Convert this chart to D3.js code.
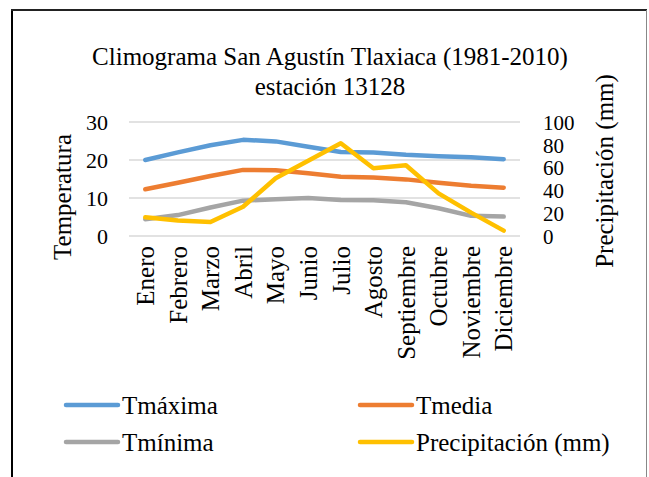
<!DOCTYPE html>
<html>
<head>
<meta charset="utf-8">
<script src="https://cdn.jsdelivr.net/npm/d3@7"></script>
<style>
html,body{margin:0;padding:0;background:#fff;}
svg{display:block;}
svg text{font-family:"Liberation Serif","Times New Roman",Tinos,"DejaVu Serif",serif;}
</style>
</head>
<body>
<svg id="chart" width="649" height="477"></svg>
<script>
const months = ["Enero","Febrero","Marzo","Abril","Mayo","Junio","Julio","Agosto","Septiembre","Octubre","Noviembre","Diciembre"];
const tmaxima = [20.0, 22.0, 23.9, 25.3, 24.9, 23.5, 22.1, 22.0, 21.4, 21.0, 20.7, 20.2];
const tmedia = [12.3, 14.0, 15.8, 17.4, 17.3, 16.5, 15.6, 15.4, 14.9, 14.0, 13.2, 12.7];
const tminima = [4.4, 5.5, 7.5, 9.3, 9.7, 10.0, 9.5, 9.4, 8.9, 7.3, 5.3, 5.1];
const precipitacion = [16.4, 13.5, 12.3, 25.7, 50.6, 66.0, 81.3, 59.4, 62.0, 37.4, 20.5, 4.7];
const tempTicks = [0, 10, 20, 30];
const precTicks = [0, 20, 40, 60, 80, 100];
const titleLines = ["Climograma San Agustín Tlaxiaca (1981-2010)", "estación 13128"];

const svg = d3.select("#chart");
const FS = 25;

// frame
svg.append("line").attr("x1",12).attr("x2",12).attr("y1",9).attr("y2",477).attr("stroke","#000").attr("stroke-width",2);
svg.append("line").attr("x1",11).attr("x2",647).attr("y1",10).attr("y2",10).attr("stroke","#222").attr("stroke-width",2);
svg.append("line").attr("x1",646.5).attr("x2",646.5).attr("y1",10).attr("y2",477).attr("stroke","#888").attr("stroke-width",1);

const x = d3.scaleBand().domain(months).range([129, 520]);
const yT = d3.scaleLinear().domain([0, 30]).range([236, 122]);
const yP = d3.scaleLinear().domain([0, 100]).range([236, 122]);
const cx = m => x(m) + x.bandwidth()/2;

// title
svg.append("g").selectAll("text").data(titleLines).join("text")
  .attr("x", 330).attr("y", (d,i) => 65 + i*30)
  .attr("text-anchor","middle").attr("font-size", FS).attr("fill","#000")
  .text(d => d);

// gridlines
svg.append("g").selectAll("line").data(tempTicks).join("line")
  .attr("x1", 129).attr("x2", 520)
  .attr("y1", d => yT(d)).attr("y2", d => yT(d))
  .attr("stroke","#d9d9d9").attr("stroke-width",1.3);

// left axis
const gl = svg.append("g").attr("transform","translate(108,0)")
  .call(d3.axisLeft(yT).tickValues(tempTicks).tickSize(0).tickPadding(0));
gl.select(".domain").remove();
gl.selectAll("text").attr("font-size", 22).attr("fill","#000").attr("dy","0.35em");

// right axis
const gr = svg.append("g").attr("transform","translate(543,0)")
  .call(d3.axisRight(yP).tickValues(precTicks).tickSize(0).tickPadding(0));
gr.select(".domain").remove();
gr.selectAll("text").attr("font-size", 21).attr("fill","#000").attr("dy","0.35em");

// bottom axis labels
const gb = svg.append("g").attr("transform","translate(0,246)")
  .call(d3.axisBottom(x).tickSize(0).tickPadding(0));
gb.select(".domain").remove();
gb.selectAll("text")
  .attr("font-size", FS).attr("fill","#000")
  .attr("transform","rotate(-90)")
  .attr("text-anchor","end").attr("x",0).attr("y",0).attr("dy","0.35em");

// axis titles
svg.append("text").attr("transform","translate(62,197) rotate(-90)")
  .attr("text-anchor","middle").attr("dy","0.35em").attr("font-size",FS).text("Temperatura");
svg.append("text").attr("transform","translate(604,171) rotate(-90)")
  .attr("text-anchor","middle").attr("dy","0.35em").attr("font-size",FS).text("Precipitación (mm)");

// series
const series = [
  {name:"Tmáxima", vals:tmaxima, y:yT, color:"#5b9bd5"},
  {name:"Tmedia", vals:tmedia, y:yT, color:"#ed7d31"},
  {name:"Tmínima", vals:tminima, y:yT, color:"#a5a5a5"},
  {name:"Precipitación (mm)", vals:precipitacion, y:yP, color:"#ffc000"}
];
const plot = svg.append("g");
series.forEach(s => {
  const line = d3.line().x((d,i) => cx(months[i])).y(d => s.y(d));
  plot.append("path").datum(s.vals).attr("d", line)
    .attr("fill","none").attr("stroke", s.color).attr("stroke-width",4.5)
    .attr("stroke-linejoin","round").attr("stroke-linecap","round");
});

// legend
const legPos = [[64,405],[358,405],[64,442],[358,442]];
const leg = svg.append("g").selectAll("g").data(series).join("g")
  .attr("transform",(d,i) => `translate(${legPos[i][0]},${legPos[i][1]})`);
leg.append("line").attr("x1",2).attr("x2",54).attr("y1",0).attr("y2",0)
  .attr("stroke",d => d.color).attr("stroke-width",4.5).attr("stroke-linecap","round");
leg.append("text").attr("x",58).attr("dy","0.35em").attr("font-size",FS).attr("fill","#000").text(d => d.name);
</script>
</body>
</html>
